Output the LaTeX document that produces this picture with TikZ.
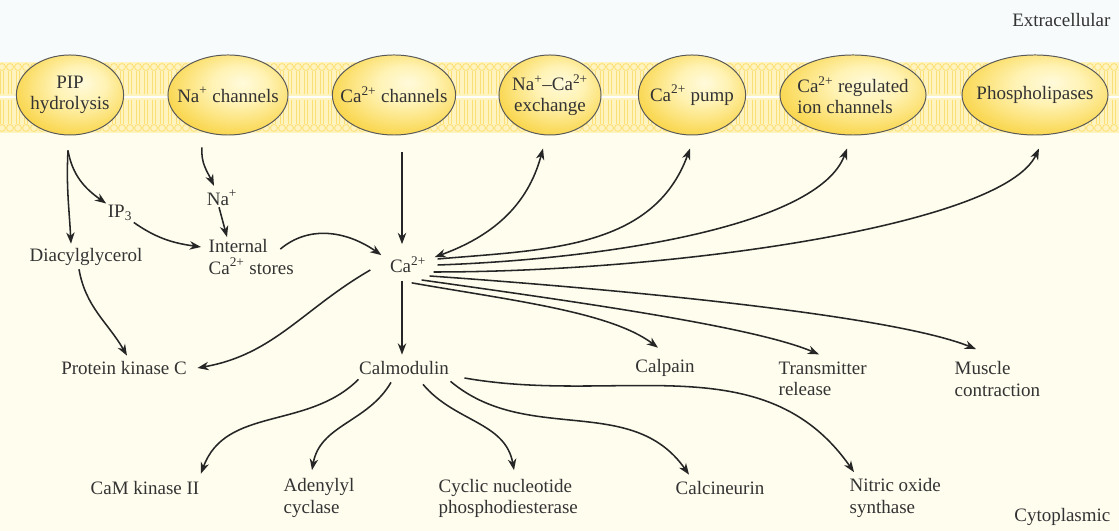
\documentclass[tikz,border=0pt]{standalone}
\usepackage{fontspec}
\setmainfont{Liberation Serif}
\usetikzlibrary{shapes.geometric,arrows.meta,calc}

\definecolor{extrabg}{RGB}{247,251,252}
\definecolor{cytobg}{RGB}{255,253,238}
\definecolor{membr}{RGB}{255,244,192}
\definecolor{lipid}{RGB}{252,224,118}
\pgfdeclareradialshading{chanshade}{\pgfpoint{6bp}{8bp}}{%
    rgb(0bp)=(1,0.98,0.86); rgb(12bp)=(1,0.95,0.7); rgb(28bp)=(0.98,0.85,0.34);
    rgb(42bp)=(0.94,0.75,0.12); rgb(60bp)=(0.9,0.68,0.04)}

\begin{document}
\begin{tikzpicture}[x=0.025cm, y=0.025cm,
    >={Stealth[length=8pt,width=6pt,inset=2.5pt]},
    txt/.style={font=\fontsize{13.5}{15}\selectfont, text=black!80, inner sep=1pt, align=left},
    lbl/.style={font=\fontsize{13.5}{15}\selectfont, text=black!80, inner sep=0pt, align=center},
    chan/.style={ellipse, draw=black!65, line width=0.7pt, minimum height=2cm, inner sep=0pt,
                 shading=chanshade},
    arr/.style={->, line width=1.1pt, black!85},
    lipidhead/.style={draw=lipid, line width=0.6pt}]
    \useasboundingbox (0,0) rectangle (1119,531);

    % Background: cytoplasm, extracellular space, membrane
    \fill[cytobg] (0,0) rectangle (1119,398);
    \fill[extrabg] (0,469) rectangle (1119,531);
    \fill[membr] (0,398) rectangle (1119,469);
    \foreach \x in {2,10,...,1118} {
        \draw[lipidhead] (\x,464) circle (3.5) (\x,403) circle (3.5);
        \draw[lipid, line width=0.4pt] (\x-1.5,460) -- (\x-1.5,437) (\x+1.5,460) -- (\x+1.5,437)
            (\x-1.5,407) -- (\x-1.5,431) (\x+1.5,407) -- (\x+1.5,431);
    }
    \draw[white, line width=1.2pt] (0,434) -- (1119,434);

    % Membrane proteins
    \node[chan, minimum width=2.68cm, label={[lbl]center:PIP\\hydrolysis}] (pip) at (70,436) {};
    \node[chan, minimum width=3.0cm, label={[lbl]center:Na\textsuperscript{+} channels}] (nach) at (228,436) {};
    \node[chan, minimum width=3.08cm, label={[lbl]center:Ca\textsuperscript{2+} channels}] (cach) at (394,436) {};
    \node[chan, minimum width=2.55cm, label={[lbl]center:Na\textsuperscript{+}--Ca\textsuperscript{2+}\\exchange}] (exch) at (550,436) {};
    \node[chan, minimum width=2.68cm, label={[lbl]center:Ca\textsuperscript{2+} pump}] (pump) at (692,436) {};
    \node[chan, minimum width=3.65cm, label={[lbl, align=left]center:Ca\textsuperscript{2+} regulated\\ion channels}] (creg) at (853,436) {};
    \node[chan, minimum width=3.65cm, label={[lbl]center:Phospholipases}] (plip) at (1035,436) {};

    % Compartment labels
    \node[txt, anchor=east] (extra) at (1112,511) {Extracellular};
    \node[txt, anchor=east] (cyto) at (1112,14) {Cytoplasmic};

    % Second messengers and targets
    \node[txt] (na) at (222,333) {Na\textsuperscript{+}};
    \node[txt] (ip3) at (120,318) {IP\textsubscript{3}};
    \node[txt] (dag) at (86,274) {Diacylglycerol};
    \node[txt, anchor=west] (store) at (207,274) {Internal\\Ca\textsuperscript{2+} stores};
    \node[txt] (ca) at (408,266) {Ca\textsuperscript{2+}};
    \node[txt] (pkc) at (124,163) {Protein kinase C};
    \node[txt] (cam) at (404,163) {Calmodulin};
    \node[txt] (calp) at (665,163) {Calpain};
    \node[txt, anchor=west] (trans) at (777,152) {Transmitter\\release};
    \node[txt, anchor=west] (musc) at (953,152) {Muscle\\contraction};
    \node[txt] (camk) at (145,43) {CaM kinase II};
    \node[txt, anchor=west] (adcy) at (282,33) {Adenylyl\\cyclase};
    \node[txt, anchor=west] (pde) at (437,33) {Cyclic nucleotide\\phosphodiesterase};
    \node[txt] (calc) at (720,43) {Calcineurin};
    \node[txt, anchor=west] (nos) at (848,33) {Nitric oxide\\synthase};

    % PIP hydrolysis and Na+ branch
    \draw[arr] ($(pip.south)+(-2,-15)$) to[out=-93, in=93] ($(dag.north)+(-15,3)$);
    \draw[arr] ($(pip.south)+(-2,-15)$) to[out=-80, in=145] (ip3.north west);
    \draw[arr] ($(nach.south)+(-26,-12)$) to[out=-95, in=115] ($(na.north)+(-8,3)$);
    \draw[arr] ($(na.south)+(-3,0)$) -- ($(store.north west)+(20,1)$);
    \draw[arr] (ip3.south east) to[out=-35, in=172] ($(store.west)+(-6,10)$);
    \draw[arr] ($(dag.south)+(-7,-2)$) to[out=-80, in=120] ($(pkc.north)+(3,4)$);

    % Into Ca2+
    \draw[arr] ($(store.north east)+(-15,-11)$) to[out=40, in=145] ($(ca.north west)+(-7,0)$);
    \draw[arr] ($(cach.south)+(8,-17)$) -- ($(ca.north)+(-6,11)$);
    \draw[<->, line width=1.1pt, black!85] ($(ca.north east)+(7,-2)$) to[out=20, in=-105] ($(exch.south)+(-7,-13)$);

    % Out of Ca2+
    \draw[arr] ($(ca.east)+(10,6)$) to[out=5, in=-110] ($(pump.south)+(-2,-13)$);
    \draw[arr] ($(ca.east)+(10,0)$) to[out=2, in=-110, in looseness=0.5] ($(creg.south)+(-6,-13)$);
    \draw[arr] ($(ca.east)+(6,-7)$) to[out=0, in=-115, in looseness=0.35] ($(plip.south)+(4,-13)$);
    \draw[arr] ($(ca.east)+(2,-11)$) to[out=-4, in=158, in looseness=0.4] ($(musc.north west)+(23,11)$);
    \draw[arr] ($(ca.east)+(-6,-15)$) to[out=-8, in=157, in looseness=0.45] ($(trans.north west)+(42,6)$);
    \draw[arr] ($(ca.south east)+(-16,-8)$) to[out=-10, in=143, in looseness=0.6] ($(calp.north)+(-7,10)$);
    \draw[arr] ($(ca.west)+(-18,-5)$) to[out=210, in=10] ($(pkc.east)+(9,0)$);
    \draw[arr] ($(ca.south)+(-6,-6)$) -- ($(cam.north)+(-2,5)$);

    % Calmodulin targets
    \draw[arr] ($(cam.south west)+(1,-3)$) to[out=-135, in=70] ($(camk.north east)+(0,6)$);
    \draw[arr] ($(cam.south)+(-13,-6)$) to[out=-120, in=80] ($(adcy.north west)+(30,7)$);
    \draw[arr] ($(cam.south)+(19,-8)$) to[out=-50, in=100] ($(pde.north west)+(77,7)$);
    \draw[arr] ($(cam.south east)+(0,-5)$) to[out=-40, in=125] ($(calc.north)+(-31,5)$);
    \draw[arr] ($(cam.east)+(14,-10)$) to[out=-10, in=125] ($(nos.north west)+(6,5)$);
\end{tikzpicture}
\end{document}
